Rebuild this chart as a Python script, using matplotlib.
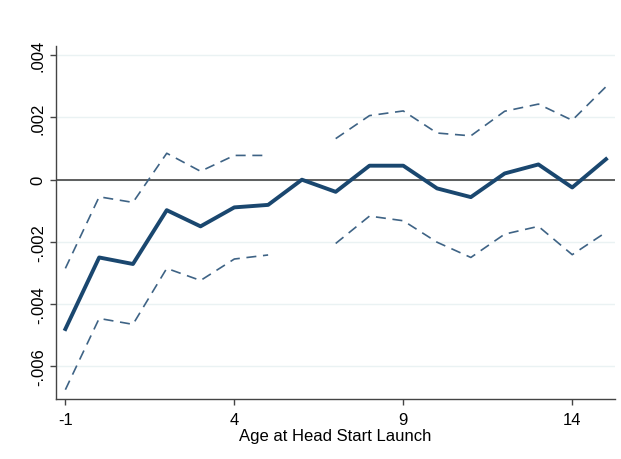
import numpy as np
import matplotlib
matplotlib.use("Agg")
import matplotlib.pyplot as plt

plt.rcParams["font.family"] = ["Liberation Sans", "DejaVu Sans"]

# age at launch, coefficient and 95% CI (age 6 is the omitted category)
age = [-1, 0, 1, 2, 3, 4, 5, 6, 7, 8, 9, 10, 11, 12, 13, 14, 15]
coef = [-0.0048, -0.0025, -0.00271, -0.00098, -0.0015, -0.00089, -0.00081, 0.0,
        -0.00039, 0.00045, 0.00045, -0.00028, -0.00056, 0.0002, 0.00049, -0.00025, 0.00066]
ci_hi = [-0.00285, -0.00055, -0.00073, 0.00085, 0.00027, 0.00078, 0.00078, np.nan,
         0.00132, 0.00206, 0.00221, 0.0015, 0.00141, 0.0022, 0.00243, 0.00191, 0.00299]
ci_lo = [-0.00675, -0.00446, -0.00465, -0.00285, -0.00324, -0.00255, -0.00242, np.nan,
         -0.00205, -0.00117, -0.00132, -0.00201, -0.0025, -0.00175, -0.0015, -0.00241, -0.00169]

xticks = [-1, 4, 9, 14]
yticks = [-0.006, -0.004, -0.002, 0, 0.002, 0.004]
ylabels = ["-.006", "-.004", "-.002", "0", ".002", ".004"]

navy = "#1a476f"

fig = plt.figure(figsize=(6.21, 4.6), dpi=100)
ax = fig.add_axes([0.0895, 0.1304, 0.9005, 0.7676])

for y in yticks:
    ax.axhline(y, color="#eaf2f3", lw=1.0, zorder=0)
ax.axhline(0, color="#444444", lw=1.2, zorder=1)

ax.plot(age, ci_hi, color="#3e6385", lw=1.2, ls=(0, (6, 4)), zorder=2)
ax.plot(age, ci_lo, color="#3e6385", lw=1.2, ls=(0, (6, 4)), zorder=2)
ax.plot(age, coef, color=navy, lw=2.8, zorder=3)

ax.set_xlim(-1.29, 15.26)
ax.set_ylim(-0.00705, 0.0043)
ax.set_xticks(xticks)
ax.set_xticklabels([str(t) for t in xticks], fontsize=12)
ax.set_yticks(yticks)
ax.set_yticklabels(ylabels, fontsize=12, rotation=90, va="center")
ax.tick_params(direction="out", length=4, width=1, color="#444444")
ax.tick_params(axis="x", pad=5)
ax.tick_params(axis="y", pad=3)
ax.set_xlabel("Age at Head Start Launch", fontsize=12, labelpad=1)

for s in ["top", "right"]:
    ax.spines[s].set_visible(False)
for s in ["left", "bottom"]:
    ax.spines[s].set_color("#444444")
    ax.spines[s].set_linewidth(1.0)

fig.savefig("out.png", dpi=100)
